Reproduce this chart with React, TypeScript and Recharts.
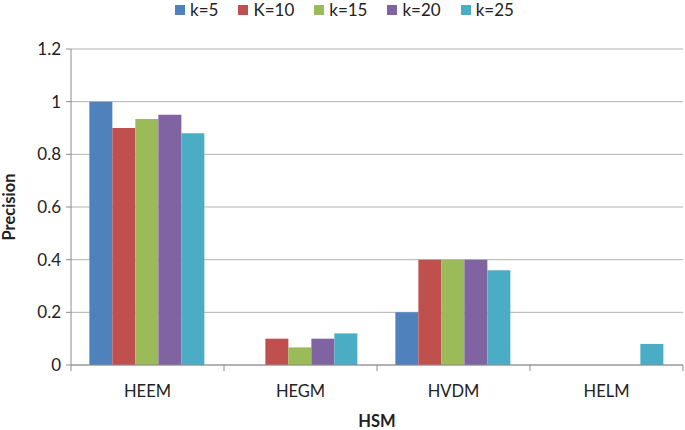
import React from "react";
import { BarChart, Bar, XAxis, YAxis, CartesianGrid, Legend } from "recharts";

const categories = ["HEEM", "HEGM", "HVDM", "HELM"];
const k5 = [1, 0, 0.2, 0];
const k10 = [0.9, 0.1, 0.4, 0];
const k15 = [0.934, 0.067, 0.4, 0];
const k20 = [0.95, 0.1, 0.4, 0];
const k25 = [0.88, 0.12, 0.36, 0.08];
const yTicks = [0, 0.2, 0.4, 0.6, 0.8, 1, 1.2];
const seriesNames = ["k=5", "K=10", "k=15", "k=20", "k=25"];
const colors = ["#4F81BD", "#C0504D", "#9BBB59", "#8064A2", "#4BACC6"];

const data = categories.map((c, i) => ({
  name: c,
  s0: k5[i],
  s1: k10[i],
  s2: k15[i],
  s3: k20[i],
  s4: k25[i],
}));

const FONT = "Lato, 'Liberation Sans', sans-serif";

const XTick = (props: any) => {
  const { x, y, payload, width, visibleTicksCount, index } = props;
  const half = width / (visibleTicksCount * 2);
  return (
    <g>
      <line x1={x - half} x2={x - half} y1={y - 8} y2={y - 2} stroke="#8c8c8c" />
      {index === visibleTicksCount - 1 && (
        <line x1={x + half} x2={x + half} y1={y - 8} y2={y - 2} stroke="#8c8c8c" />
      )}
      <text x={x} y={y + 24} textAnchor="middle" fill="#222" fontSize={16.5} fontFamily={FONT}>
        {payload.value}
      </text>
    </g>
  );
};

const fmt = (v: number) => (v === 0 || v === 1 ? String(v) : v.toFixed(1));

const LegendContent = () => (
  <div style={{ display: "flex", justifyContent: "center", gap: 20, fontFamily: FONT, fontSize: 17, color: "#222", lineHeight: "19px", paddingLeft: 4 }}>
    {seriesNames.map((n, i) => (
      <span key={n} style={{ display: "inline-flex", alignItems: "center" }}>
        <span style={{ width: 10, height: 10, background: colors[i], display: "inline-block", marginRight: 5 }} />
        {n}
      </span>
    ))}
  </div>
);

export default function App() {
  return (
    <div style={{ position: "absolute", left: 0, top: 0, width: 685, height: 430, background: "#fff" }}>
      <BarChart
        width={685}
        height={430}
        data={data}
        margin={{ top: 30, right: 2, bottom: 35, left: 21 }}
        barCategoryGap="12%"
        barGap={0}
      >
        <CartesianGrid vertical={false} stroke="#b3b3b3" strokeWidth={1} />
        <XAxis
          dataKey="name"
          height={30}
          axisLine={{ stroke: "#8c8c8c" }}
          tickLine={false}
          tick={<XTick />}
          interval={0}
          label={{ value: "HSM", position: "insideBottom", offset: -32, fill: "#222", fontSize: 16.5, fontWeight: "bold", fontFamily: FONT } as any}
        />
        <YAxis
          domain={[0, 1.2]}
          ticks={yTicks}
          tickFormatter={fmt}
          width={50}
          axisLine={{ stroke: "#8c8c8c" }}
          tickLine={{ stroke: "#8c8c8c" }}
          tickSize={5}
          tickMargin={5}
          tick={{ fill: "#222", fontSize: 17, fontFamily: FONT }}
          interval={0}
          label={{ value: "Precision", angle: -90, position: "insideLeft", offset: -12, fill: "#222", fontSize: 16.5, fontWeight: "bold", fontFamily: FONT, style: { textAnchor: "middle" } } as any}
        />
        <Legend
          verticalAlign="top"
          align="center"
          content={<LegendContent />}
          wrapperStyle={{ top: 0, left: 0, width: 685 }}
        />
        {seriesNames.map((n, i) => (
          <Bar key={n} dataKey={`s${i}`} name={n} fill={colors[i]} isAnimationActive={false} />
        ))}
      </BarChart>
    </div>
  );
}
